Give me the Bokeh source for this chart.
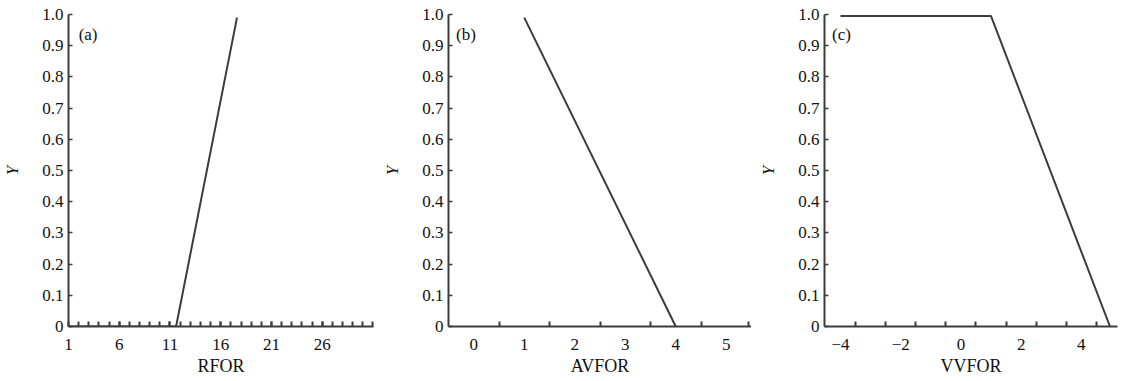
from bokeh.plotting import figure
from bokeh.layouts import row
from bokeh.models import Range1d, FixedTicker, CustomJSTickFormatter, Label
from bokeh.embed import file_html
from bokeh.resources import INLINE

# ---- data ----
a_x = [1.0, 11.6, 17.6]
a_y = [0.0, 0.0, 0.99]
b_x = [1.0, 4.0]
b_y = [0.99, 0.0]
c_x = [-4.0, 1.0, 4.95]
c_y = [0.995, 0.995, 0.0]

a_labels = [1, 6, 11, 16, 21, 26]
a_minor = list(range(2, 32))
b_labels = [0, 1, 2, 3, 4, 5]
b_minor = [0.5, 1.5, 2.5, 3.5, 4.5, 5.45]
c_labels = [-4, -2, 0, 2, 4]
c_minor = [-3.5, -2.5, -1.5, -0.5, 0.5, 1.5, 2.5, 3.5, 4.5]
y_ticks = [0, 0.1, 0.2, 0.3, 0.4, 0.5, 0.6, 0.7, 0.8, 0.9, 1.0]

x_titles = ["RFOR", "AVFOR", "VVFOR"]
panel_tags = ["(a)", "(b)", "(c)"]

LINE = "#3c3c3c"
TXT = "#111111"
SERIF = "Liberation Serif"
H = 378


def make(width, bl, br, xr, labels, minor, show_major, xs, ys, title, tag, tag_x):
    p = figure(width=width, height=H, x_range=Range1d(*xr), y_range=Range1d(0, 1.0),
               output_backend="svg", toolbar_location=None,
               min_border_left=bl, min_border_right=br, min_border_top=14, min_border_bottom=52)
    p.outline_line_color = None
    p.grid.visible = False
    p.background_fill_color = "white"
    p.border_fill_color = "white"

    xa = p.xaxis[0]
    xa.ticker = FixedTicker(ticks=labels, minor_ticks=minor)
    xa.formatter = CustomJSTickFormatter(code="return (tick < 0 ? '\u2212' + Math.abs(tick) : '' + tick);")
    xa.major_tick_in = 5
    xa.major_tick_out = 0
    xa.minor_tick_in = 5
    xa.minor_tick_out = 0
    xa.axis_line_width = 2
    xa.axis_line_color = LINE
    xa.major_tick_line_color = LINE if show_major else None
    xa.minor_tick_line_color = LINE
    xa.major_tick_line_width = 2
    xa.minor_tick_line_width = 2
    xa.major_label_standoff = 12
    xa.major_label_text_font = SERIF
    xa.major_label_text_font_size = "17px"
    xa.major_label_text_color = TXT
    xa.axis_label = title
    xa.axis_label_standoff = 3
    xa.axis_label_text_font = SERIF
    xa.axis_label_text_font_size = "18px"
    xa.axis_label_text_font_style = "normal"
    xa.axis_label_text_color = TXT

    ya = p.yaxis[0]
    ya.ticker = FixedTicker(ticks=y_ticks)
    ya.formatter = CustomJSTickFormatter(code="return (Math.abs(tick) < 1e-9 ? '0' : tick.toFixed(1));")
    ya.major_tick_in = 4
    ya.major_tick_out = 0
    ya.minor_tick_line_color = None
    ya.axis_line_width = 2
    ya.axis_line_color = LINE
    ya.major_tick_line_color = LINE
    ya.major_tick_line_width = 1.5
    ya.major_label_standoff = 5
    ya.major_label_text_font = SERIF
    ya.major_label_text_font_size = "17px"
    ya.major_label_text_color = TXT
    ya.axis_label = "Y"
    ya.axis_label_standoff = 17
    ya.axis_label_text_font = SERIF
    ya.axis_label_text_font_size = "17px"
    ya.axis_label_text_font_style = "italic"
    ya.axis_label_text_color = TXT

    p.line(xs, ys, line_color=LINE, line_width=2)
    p.add_layout(Label(x=tag_x, y=0.965, text=tag, text_baseline="top",
                       text_font=SERIF, text_font_size="17px", text_color=TXT))
    return p


pa = make(378, 68, 5, (1, 31.05), a_labels, a_minor, True, a_x, a_y, x_titles[0], panel_tags[0], 2.0)
pb = make(373, 70, 0, (-0.5, 5.5), b_labels, b_minor, False, b_x, b_y, x_titles[1], panel_tags[1], -0.35)
pc = make(369, 73, 3, (-4.53, 5.2), c_labels, c_minor, False, c_x, c_y, x_titles[2], panel_tags[2], -4.28)

layout = row(pa, pb, pc)
open("out.html", "w").write(file_html(layout, INLINE))
